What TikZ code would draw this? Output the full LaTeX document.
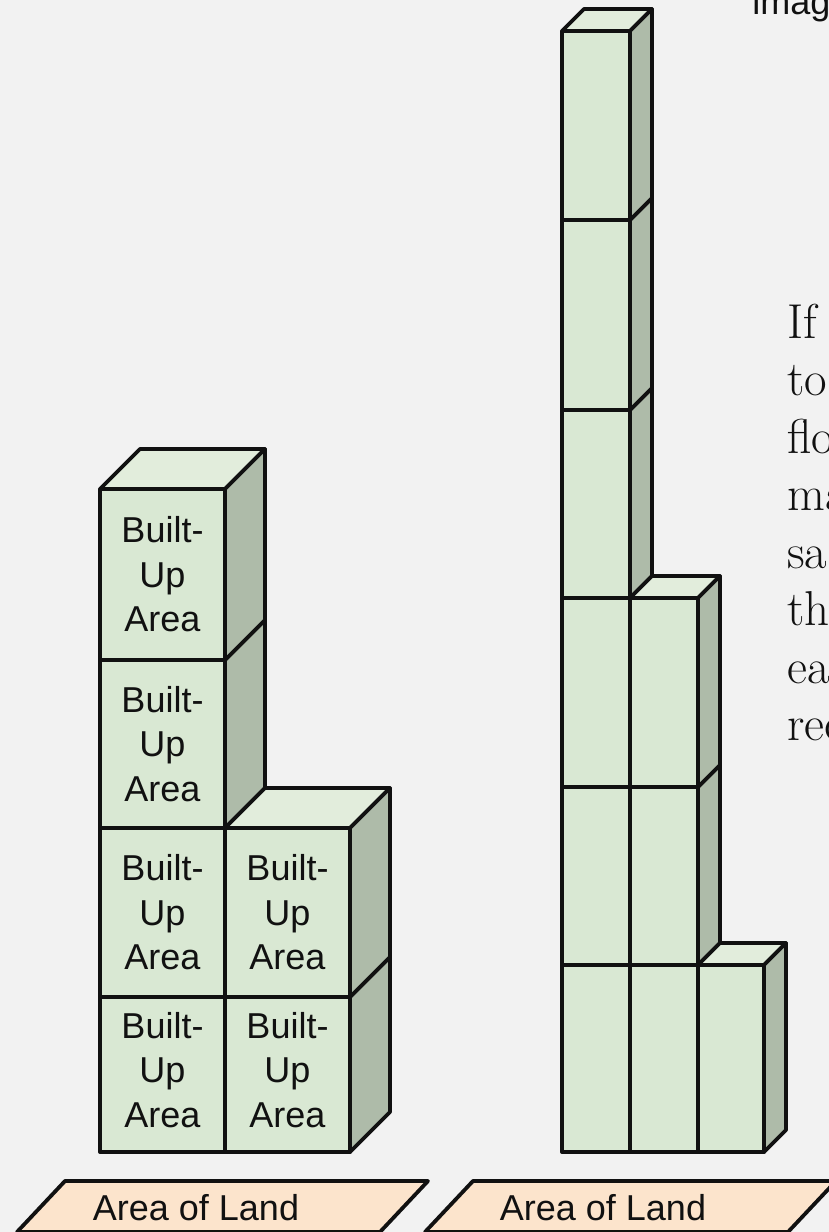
\documentclass[tikz,border=0pt]{standalone}
\usepackage{fontspec}
\newfontfamily\labelfont{Liberation Sans}
\definecolor{paper}{HTML}{F2F2F2}
\definecolor{frontgreen}{HTML}{D9E8D3}
\definecolor{topgreen}{HTML}{E2EDDC}
\definecolor{sidegreen}{HTML}{AEBBA9}
\definecolor{landpeach}{HTML}{FCE4CC}
\definecolor{ink}{HTML}{111111}
\tikzset{
  edge/.style={draw=ink, line width=1.9pt, line join=round},
  facefront/.style={edge, fill=frontgreen},
  facetop/.style={edge, fill=topgreen},
  faceside/.style={edge, fill=sidegreen},
  landplot/.style={edge, fill=landpeach},
  builtup/.style={align=center, text=ink, font=\labelfont\fontsize{18}{22.3}\selectfont, inner sep=0pt},
  landtext/.style={anchor=base, text=ink, font=\labelfont\fontsize{18}{22}\selectfont, inner sep=0pt},
  bodytext/.style={anchor=base west, text=ink, font=\fontsize{24.5}{28}\selectfont, inner sep=0pt},
}
% one floor block: front face (#1,#2)-(#3,#4), receding by #5
\newcommand\floorblock[5]{%
  \filldraw[facefront] (#1,#2) rectangle (#3,#4);
  \filldraw[facetop] (#1,#2) -- (#1+#5,#2-#5) -- (#3+#5,#2-#5) -- (#3,#2) -- cycle;
  \filldraw[faceside] (#3,#2) -- (#3+#5,#2-#5) -- (#3+#5,#4-#5) -- (#3,#4) -- cycle;
}
\begin{document}
\begin{tikzpicture}[x=0.5pt, y=-0.5pt]
\useasboundingbox (0,0) rectangle (829,1232);
\fill[paper] (0,0) rectangle (829,1232);
\clip (0,0) rectangle (829,1232);

% left building: four floors on two plots
\floorblock{100}{997}{225}{1152}{40}
\floorblock{100}{828}{225}{997}{40}
\floorblock{100}{660}{225}{828}{40}
\floorblock{100}{489}{225}{660}{40}
\floorblock{225}{997}{350}{1152}{40}
\floorblock{225}{828}{350}{997}{40}

\node[builtup] (a1) at (162.5,574.5) {Built-\\Up\\Area};
\node[builtup] (a2) at (162.5,744) {Built-\\Up\\Area};
\node[builtup] (a3) at (162.5,912.5) {Built-\\Up\\Area};
\node[builtup] (a4) at (162.5,1070) {Built-\\Up\\Area};
\node[builtup] (b3) at (287.5,912.5) {Built-\\Up\\Area};
\node[builtup] (b4) at (287.5,1070) {Built-\\Up\\Area};

% right building: slender tower
\floorblock{562}{965}{630}{1152}{22}
\floorblock{562}{787}{630}{965}{22}
\floorblock{562}{598}{630}{787}{22}
\floorblock{562}{410}{630}{598}{22}
\floorblock{562}{220}{630}{410}{22}
\floorblock{562}{31}{630}{220}{22}
\floorblock{630}{965}{698}{1152}{22}
\floorblock{630}{787}{698}{965}{22}
\floorblock{630}{598}{698}{787}{22}
\floorblock{698}{965}{764}{1152}{22}

% land plots
\filldraw[landplot] (65,1181) -- (428,1181) -- (380,1232) -- (17,1232) -- cycle;
\filldraw[landplot] (473,1181) -- (836,1181) -- (788,1232) -- (425,1232) -- cycle;
\node[landtext] (land1) at (196,1220) {Area of Land};
\node[landtext] (land2) at (603,1220) {Area of Land};

% caption and running text
\node[anchor=base west, text=ink, font=\labelfont\fontsize{18}{22}\selectfont, inner sep=0pt] (cap) at (752,14) {imag};
\node[bodytext] (t1) at (787,338) {If};
\node[bodytext] (t2) at (787,395) {to};
\node[bodytext] (t3) at (787,453) {flo};
\node[bodytext] (t4) at (787,510) {ma};
\node[bodytext] (t5) at (787,568) {sa};
\node[bodytext] (t6) at (787,625) {th};
\node[bodytext] (t7) at (787,683) {ea};
\node[bodytext] (t8) at (787,740) {rec};
\end{tikzpicture}
\end{document}
